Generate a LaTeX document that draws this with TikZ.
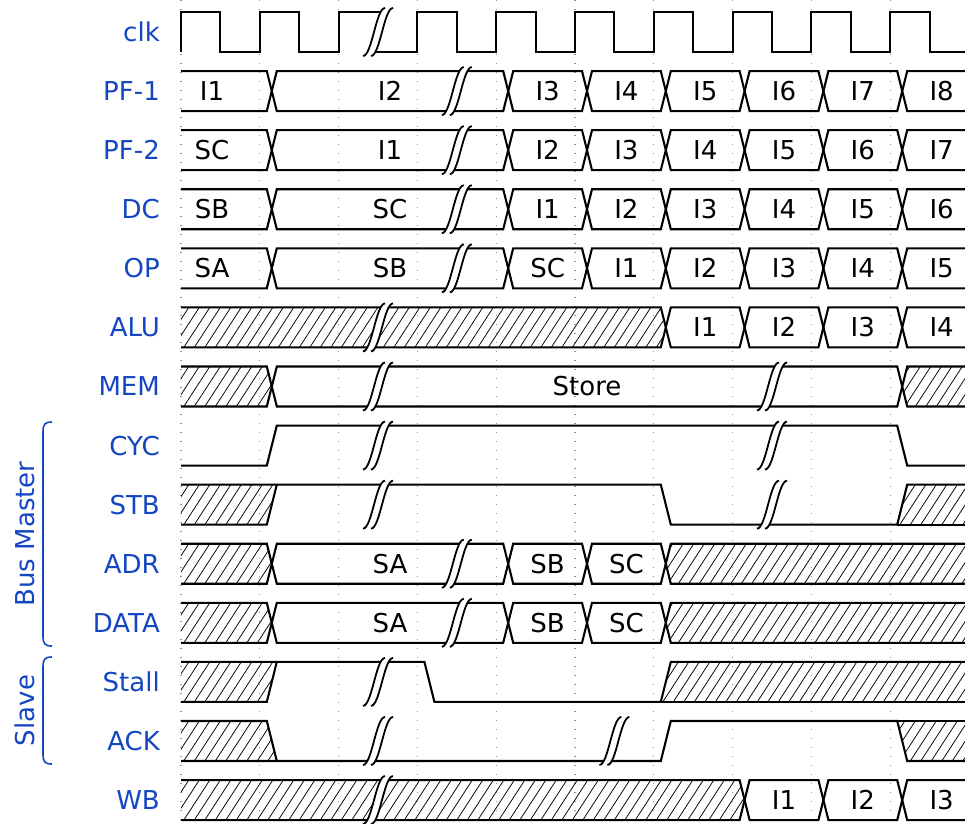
\documentclass[tikz,border=0pt]{standalone}
\usepackage{fontspec}
\setmainfont{DejaVu Sans}
\definecolor{lblue}{RGB}{20,70,195}
\tikzset{
  sig/.style={line width=2.1pt, black},
  hatchl/.style={line width=0.75pt, black},
  gridl/.style={gray!85, line width=1.3pt, dash pattern=on 1.3pt off 7.7pt},
  sname/.style={text=lblue, font=\fontsize{26}{30}\selectfont, anchor=base east, inner sep=0pt},
  grpname/.style={text=lblue, font=\fontsize{26}{30}\selectfont, anchor=base, inner sep=0pt, rotate=90},
  dtext/.style={font=\fontsize{26}{30}\selectfont, anchor=base, inner sep=0pt},
  brkline/.style={line width=1.8pt, black},
  grpbrace/.style={line width=1.6pt, lblue},
}
% data segment between clock instants #1 and #2, text #3
\newcommand\dseg[3]{%
  \draw[sig] ({#1+17},-20) -- ({#2+7},-20) -- ({#2+12},0) -- ({#2+7},20) -- ({#1+17},20) -- ({#1+12},0) -- cycle;
  \node[dtext] at ({(#1+#2)/2+12},9.5) {#3};}
\newcommand\dfirst[1]{%
  \draw[sig] (181,-20) -- (266.8,-20) -- (271.8,0) -- (266.8,20) -- (181,20);
  \node[dtext] at (212,9.5) {#1};}
\newcommand\dlast[1]{%
  \draw[sig] (975,-20) -- (907.2,-20) -- (902.2,0) -- (907.2,20) -- (975,20);
  \node[dtext] at (941.6,9.5) {#1};}
\newcommand\hatchfill[3]{%
  \begin{scope}
    \clip #1;
    \pgfmathtruncatemacro\hn{(#3-#2+40)/10.5}%
    \foreach \hi in {0,...,\hn}{\draw[hatchl] ({#2-30+10.5*\hi},22) -- ({#2-30+10.5*\hi+28.6},-22);}
  \end{scope}}
\newcommand\brkat[1]{%
  \fill[white] ({#1-15},24) .. controls ({#1-6},24) and ({#1-2},-24) .. ({#1+7},-24) -- ({#1+15},-24) .. controls ({#1+6},-24) and ({#1+2},24) .. ({#1-7},24) -- cycle;
  \draw[brkline] ({#1-15},24) .. controls ({#1-6},24) and ({#1-2},-24) .. ({#1+7},-24);
  \draw[brkline] ({#1-7},24) .. controls ({#1+2},24) and ({#1+6},-24) .. ({#1+15},-24);}
\begin{document}
\begin{tikzpicture}[x=1pt,y=-1pt]
\useasboundingbox (0,0) rectangle (965,823);
\clip (0,0) rectangle (965,823);
% grid
\foreach \k in {0,2,...,18} \draw[gridl] ({181+39.4*\k},0) -- ({181+39.4*\k},823);
% group braces and names
\draw[grpbrace] (52,422) .. controls (45,422) and (43,424) .. (43,432) -- (43,636) .. controls (43,644) and (45,646) .. (52,646);
\draw[grpbrace] (52,657) .. controls (45,657) and (43,659) .. (43,667) -- (43,754) .. controls (43,762) and (45,764) .. (52,764);
\node[grpname] (gbm) at (34,534) {Bus Master};
\node[grpname] (gsl) at (34,710.5) {Slave};
% clk
\begin{scope}[shift={(0,32)}]
\node[sname] (nclk) at (160,9.5) {clk};
\draw[sig] (181,20) -- (181,-20) -- (220.4,-20) -- (220.4,20) -- (259.8,20) -- (259.8,-20) -- (299.2,-20) -- (299.2,20) -- (338.6,20) -- (338.6,-20) -- (384,-20);
\draw[sig] (372,20) -- (417.4,20) -- (417.4,-20) -- (456.8,-20) -- (456.8,20) -- (496.2,20) -- (496.2,-20) -- (535.6,-20) -- (535.6,20) -- (575,20) -- (575,-20) -- (614.4,-20) -- (614.4,20) -- (653.8,20) -- (653.8,-20) -- (693.2,-20) -- (693.2,20) -- (732.6,20) -- (732.6,-20) -- (772,-20) -- (772,20) -- (811.4,20) -- (811.4,-20) -- (850.8,-20) -- (850.8,20) -- (890.2,20) -- (890.2,-20) -- (929.6,-20) -- (929.6,20) -- (975,20);
\brkat{378}
\end{scope}
% PF-1
\begin{scope}[shift={(0,91.08)}]
\node[sname] (npf1) at (160,9.5) {PF-1};
\dfirst{I1}
\dseg{259.8}{496.2}{I2}
\dseg{496.2}{575}{I3}
\dseg{575}{653.8}{I4}
\dseg{653.8}{732.6}{I5}
\dseg{732.6}{811.4}{I6}
\dseg{811.4}{890.2}{I7}
\dlast{I8}
\brkat{456.8}
\end{scope}
% PF-2
\begin{scope}[shift={(0,150.16)}]
\node[sname] (npf2) at (160,9.5) {PF-2};
\dfirst{SC}
\dseg{259.8}{496.2}{I1}
\dseg{496.2}{575}{I2}
\dseg{575}{653.8}{I3}
\dseg{653.8}{732.6}{I4}
\dseg{732.6}{811.4}{I5}
\dseg{811.4}{890.2}{I6}
\dlast{I7}
\brkat{456.8}
\end{scope}
% DC
\begin{scope}[shift={(0,209.24)}]
\node[sname] (ndc) at (160,9.5) {DC};
\dfirst{SB}
\dseg{259.8}{496.2}{SC}
\dseg{496.2}{575}{I1}
\dseg{575}{653.8}{I2}
\dseg{653.8}{732.6}{I3}
\dseg{732.6}{811.4}{I4}
\dseg{811.4}{890.2}{I5}
\dlast{I6}
\brkat{456.8}
\end{scope}
% OP
\begin{scope}[shift={(0,268.32)}]
\node[sname] (nop) at (160,9.5) {OP};
\dfirst{SA}
\dseg{259.8}{496.2}{SB}
\dseg{496.2}{575}{SC}
\dseg{575}{653.8}{I1}
\dseg{653.8}{732.6}{I2}
\dseg{732.6}{811.4}{I3}
\dseg{811.4}{890.2}{I4}
\dlast{I5}
\brkat{456.8}
\end{scope}
% ALU
\begin{scope}[shift={(0,327.4)}]
\node[sname] (nalu) at (160,9.5) {ALU};
\hatchfill{(181,-20) -- (660.8,-20) -- (665.8,0) -- (660.8,20) -- (181,20) -- cycle}{181}{666}
\draw[sig] (181,-20) -- (660.8,-20) -- (665.8,0) -- (660.8,20) -- (181,20);
\dseg{653.8}{732.6}{I1}
\dseg{732.6}{811.4}{I2}
\dseg{811.4}{890.2}{I3}
\dlast{I4}
\brkat{378}
\end{scope}
% MEM
\begin{scope}[shift={(0,386.48)}]
\node[sname] (nmem) at (160,9.5) {MEM};
\hatchfill{(181,-20) -- (266.8,-20) -- (271.8,0) -- (266.8,20) -- (181,20) -- cycle}{181}{272}
\draw[sig] (181,-20) -- (266.8,-20) -- (271.8,0) -- (266.8,20) -- (181,20);
\dseg{259.8}{890.2}{Store}
\hatchfill{(975,-20) -- (907.2,-20) -- (902.2,0) -- (907.2,20) -- (975,20) -- cycle}{902}{975}
\draw[sig] (975,-20) -- (907.2,-20) -- (902.2,0) -- (907.2,20) -- (975,20);
\brkat{378}
\brkat{772}
\end{scope}
% CYC
\begin{scope}[shift={(0,445.56)}]
\node[sname] (ncyc) at (160,9.5) {CYC};
\draw[sig] (181,20) -- (266.8,20) -- (276.8,-20) -- (897.2,-20) -- (907.2,20) -- (975,20);
\brkat{378}
\brkat{772}
\end{scope}
% STB
\begin{scope}[shift={(0,504.64)}]
\node[sname] (nstb) at (160,9.5) {STB};
\hatchfill{(181,-20) -- (276.8,-20) -- (266.8,20) -- (181,20) -- cycle}{181}{277}
\hatchfill{(897.2,20) -- (907.2,-20) -- (975,-20) -- (975,20) -- cycle}{897}{975}
\draw[sig] (181,-20) -- (660.8,-20) -- (670.8,20) -- (897.2,20) -- (907.2,-20) -- (975,-20);
\draw[sig] (181,20) -- (266.8,20) -- (276.8,-20);
\draw[sig] (897.2,20) -- (975,20);
\brkat{378}
\brkat{772}
\end{scope}
% ADR
\begin{scope}[shift={(0,563.72)}]
\node[sname] (nadr) at (160,9.5) {ADR};
\hatchfill{(181,-20) -- (266.8,-20) -- (271.8,0) -- (266.8,20) -- (181,20) -- cycle}{181}{272}
\draw[sig] (181,-20) -- (266.8,-20) -- (271.8,0) -- (266.8,20) -- (181,20);
\dseg{259.8}{496.2}{SA}
\dseg{496.2}{575}{SB}
\dseg{575}{653.8}{SC}
\hatchfill{(975,-20) -- (670.8,-20) -- (665.8,0) -- (670.8,20) -- (975,20) -- cycle}{665}{975}
\draw[sig] (975,-20) -- (670.8,-20) -- (665.8,0) -- (670.8,20) -- (975,20);
\brkat{456.8}
\end{scope}
% DATA
\begin{scope}[shift={(0,622.8)}]
\node[sname] (ndata) at (160,9.5) {DATA};
\hatchfill{(181,-20) -- (266.8,-20) -- (271.8,0) -- (266.8,20) -- (181,20) -- cycle}{181}{272}
\draw[sig] (181,-20) -- (266.8,-20) -- (271.8,0) -- (266.8,20) -- (181,20);
\dseg{259.8}{496.2}{SA}
\dseg{496.2}{575}{SB}
\dseg{575}{653.8}{SC}
\hatchfill{(975,-20) -- (670.8,-20) -- (665.8,0) -- (670.8,20) -- (975,20) -- cycle}{665}{975}
\draw[sig] (975,-20) -- (670.8,-20) -- (665.8,0) -- (670.8,20) -- (975,20);
\brkat{456.8}
\end{scope}
% Stall
\begin{scope}[shift={(0,681.88)}]
\node[sname] (nstall) at (160,9.5) {Stall};
\hatchfill{(181,-20) -- (276.8,-20) -- (266.8,20) -- (181,20) -- cycle}{181}{277}
\hatchfill{(660.8,20) -- (670.8,-20) -- (975,-20) -- (975,20) -- cycle}{660}{975}
\draw[sig] (181,-20) -- (424.4,-20) -- (434.4,20) -- (660.8,20) -- (670.8,-20) -- (975,-20);
\draw[sig] (181,20) -- (266.8,20) -- (276.8,-20);
\draw[sig] (660.8,20) -- (975,20);
\brkat{378}
\end{scope}
% ACK
\begin{scope}[shift={(0,740.96)}]
\node[sname] (nack) at (160,9.5) {ACK};
\hatchfill{(181,-20) -- (266.8,-20) -- (276.8,20) -- (181,20) -- cycle}{181}{277}
\hatchfill{(897.2,-20) -- (907.2,20) -- (975,20) -- (975,-20) -- cycle}{897}{975}
\draw[sig] (181,-20) -- (266.8,-20) -- (276.8,20);
\draw[sig] (181,20) -- (660.8,20) -- (670.8,-20) -- (897.2,-20) -- (907.2,20) -- (975,20);
\draw[sig] (897.2,-20) -- (975,-20);
\brkat{378}
\brkat{614.4}
\end{scope}
% WB
\begin{scope}[shift={(0,800.04)}]
\node[sname] (nwb) at (160,9.5) {WB};
\hatchfill{(181,-20) -- (739.6,-20) -- (744.6,0) -- (739.6,20) -- (181,20) -- cycle}{181}{745}
\draw[sig] (181,-20) -- (739.6,-20) -- (744.6,0) -- (739.6,20) -- (181,20);
\dseg{732.6}{811.4}{I1}
\dseg{811.4}{890.2}{I2}
\dlast{I3}
\brkat{378}
\end{scope}
\end{tikzpicture}
\end{document}
